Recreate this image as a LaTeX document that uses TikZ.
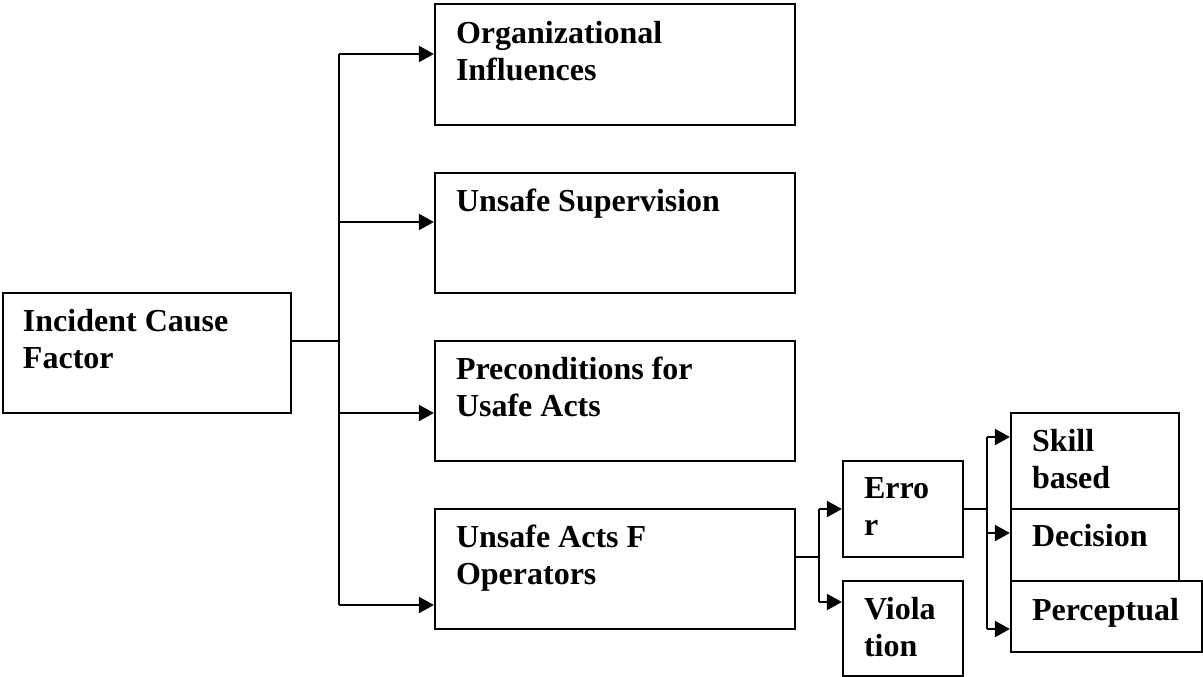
\documentclass[tikz,border=0pt]{standalone}
\usepackage{fontspec}
\setmainfont{Liberation Serif}
\usetikzlibrary{calc,positioning,arrows.meta}

\begin{document}
\begin{tikzpicture}[x=1pt,y=-1pt,line width=2.2pt,
  box/.style={draw,rectangle,inner sep=0pt},
  lbl/.style={anchor=base west,align=left,inner sep=0pt,font=\fontsize{32}{37}\selectfont\bfseries},
  arr/.style={-{Triangle[length=15pt,width=16pt]}}]
\useasboundingbox (0,0) rectangle (1203,677);
\node [box,minimum width=288pt,minimum height=120pt] (Cause) at (147,353) {};
\node [box,minimum width=360pt,minimum height=121pt] (Org) at (615,64.5) {};
\node [box,minimum width=360pt,minimum height=120pt] (Sup) at (615,233) {};
\node [box,minimum width=360pt,minimum height=120pt] (Pre) at (615,401) {};
\node [box,minimum width=360pt,minimum height=120pt] (Acts) at (615,569) {};
\node [box,minimum width=120pt,minimum height=96pt] (Error) at (903,509) {};
\node [box,minimum width=120pt,minimum height=95pt] (Violation) at (903,628.5) {};
\node [box,minimum width=168pt,minimum height=96pt] (Skill) at (1095,461) {};
\node [box,minimum width=168pt,minimum height=72pt] (Decision) at (1095,545) {};
\node [box,minimum width=191pt,minimum height=71pt] (Perceptual) at (1106.5,616.5) {};
\node [lbl] (CauseText) at ($(Cause.north west)+(20,77)$) {Incident Cause\\Factor};
\node [lbl] (OrgText) at ($(Org.north west)+(21,78)$) {Organizational\\Influences};
\node [lbl] (SupText) at ($(Sup.north west)+(21,40)$) {Unsafe Supervision};
\node [lbl] (PreText) at ($(Pre.north west)+(21,77)$) {Preconditions for\\Usafe Acts};
\node [lbl] (ActsText) at ($(Acts.north west)+(21,77)$) {Unsafe Acts F\\Operators};
\node [lbl] (ErrorText) at ($(Error.north west)+(21,76)$) {Erro\\r};
\node [lbl] (ViolationText) at ($(Violation.north west)+(21,77)$) {Viola\\tion};
\node [lbl] (SkillText) at ($(Skill.north west)+(21,77)$) {Skill\\based};
\node [lbl] (DecisionText) at ($(Decision.north west)+(21,39)$) {Decision};
\node [lbl] (PerceptualText) at ($(Perceptual.north west)+(21,41)$) {Perceptual};
\coordinate (CauseJoint) at (339,341);
\coordinate (OrgJoint) at (339,54);
\coordinate (SupJoint) at (339,222);
\coordinate (PreJoint) at (339,413);
\coordinate (ActsJoint) at (339,605);
\draw (Cause.east |- CauseJoint) -- (CauseJoint);
\draw (OrgJoint) -- (ActsJoint);
\draw [arr] (OrgJoint) -- (OrgJoint -| Org.west);
\draw [arr] (SupJoint) -- (SupJoint -| Sup.west);
\draw [arr] (PreJoint) -- (PreJoint -| Pre.west);
\draw [arr] (ActsJoint) -- (ActsJoint -| Acts.west);
\coordinate (ActsSplit) at (819,557);
\coordinate (ErrorJoint) at (819,509);
\coordinate (ViolationJoint) at (819,602);
\draw (Acts.east |- ActsSplit) -- (ActsSplit);
\draw (ErrorJoint) -- (ViolationJoint);
\draw [arr] (ErrorJoint) -- (ErrorJoint -| Error.west);
\draw [arr] (ViolationJoint) -- (ViolationJoint -| Violation.west);
\coordinate (ErrorSplit) at (987,509);
\coordinate (SkillJoint) at (987,437);
\coordinate (DecisionJoint) at (987,533);
\coordinate (PerceptualJoint) at (987,629);
\draw (Error.east) -- (ErrorSplit);
\draw (SkillJoint) -- (PerceptualJoint);
\draw [arr] (SkillJoint) -- (SkillJoint -| Skill.west);
\draw [arr] (DecisionJoint) -- (DecisionJoint -| Decision.west);
\draw [arr] (PerceptualJoint) -- (PerceptualJoint -| Perceptual.west);
\end{tikzpicture}
\end{document}
